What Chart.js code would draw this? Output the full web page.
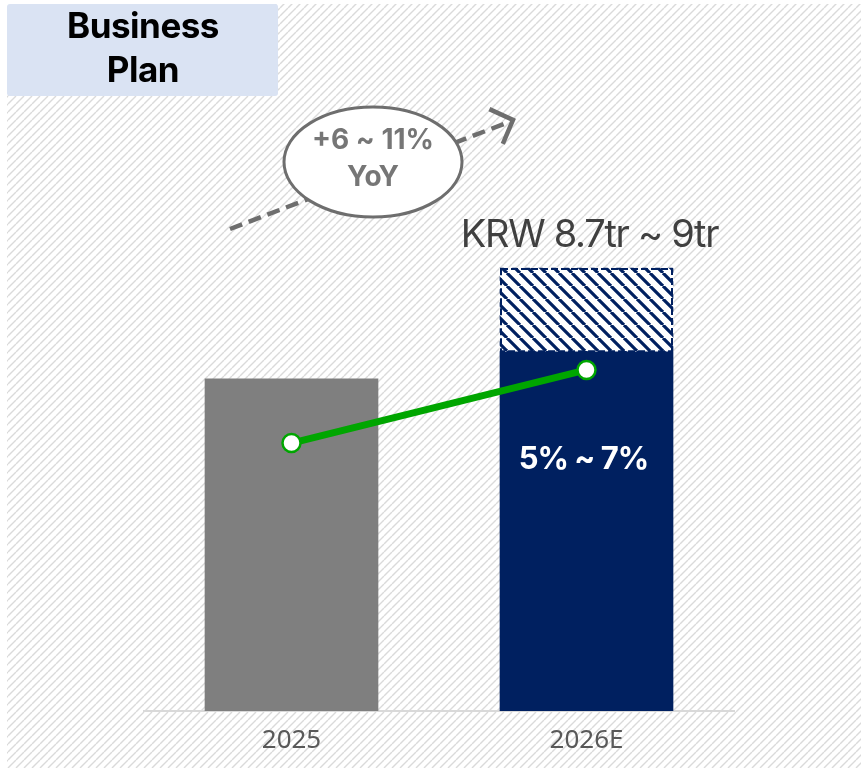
<!DOCTYPE html>
<html>
<head>
<meta charset="utf-8">
<script src="https://cdn.jsdelivr.net/npm/chart.js@4.4.1/dist/chart.umd.min.js"></script>
<style>
  html, body { margin: 0; padding: 0; background: #fff; }
</style>
</head>
<body>
<canvas id="planChart" width="864" height="768"></canvas>
<script>
const years = ["2025", "2026E"];
const revenue = [8.6, 8.7];              // KRW tr, solid bars
const targetRange = [null, [8.7, 9.0]];  // KRW tr, upper end of the 2026 plan
const trendLine = [4.4, 5.6];
const growthLines = ["+6 ~ 11%", "YoY"];
const marginLabel = "5% ~ 7%";
const titleLines = ["Business", "Plan"];

const NAVY = "#002060";
const GREEN = "#00a600";

/* ---------- PATTERNS ---------- */
function makeStripes(size, color, width, bg, rising) {
  const c = document.createElement("canvas");
  c.width = size; c.height = size;
  const g = c.getContext("2d");
  if (bg) { g.fillStyle = bg; g.fillRect(0, 0, size, size); }
  g.strokeStyle = color;
  g.lineWidth = width;
  g.beginPath();
  for (let k = -1; k <= 1; k++) {
    if (rising) {
      g.moveTo(k * size, size); g.lineTo(k * size + size, 0);
    } else {
      g.moveTo(k * size, 0); g.lineTo(k * size + size, size);
    }
  }
  g.stroke();
  return g.createPattern(c, "repeat");
}

const ctx = document.getElementById("planChart").getContext("2d");
const barHatch = makeStripes(13, NAVY, 3.2, "#ffffff", false);
const pageHatch = makeStripes(8, "#dadada", 1.4, "#ffffff", true);

/* ---------- DECORATION ---------- */
const decorations = {
  id: "decorations",
  beforeDraw(chart) {
    const c = chart.ctx;
    c.save();
    c.fillStyle = "#ffffff";
    c.fillRect(0, 0, chart.width, chart.height);
    c.fillStyle = pageHatch;
    c.fillRect(7, 4, 854, 764);

    // title box
    c.fillStyle = "#dae3f3";
    c.beginPath();
    c.roundRect(7, 4, 271, 92, 3);
    c.fill();
    c.fillStyle = "#000000";
    c.font = "700 35px Inter";
    c.letterSpacing = "-0.5px";
    c.textAlign = "center";
    c.textBaseline = "middle";
    c.fillText(titleLines[0], 143, 27);
    c.fillText(titleLines[1], 143, 71);
    c.restore();
  },
  afterDatasetsDraw(chart) {
    // dashed outline round the upper range
    const bar = chart.getDatasetMeta(2).data[1];
    const c = chart.ctx;
    c.save();
    c.strokeStyle = NAVY;
    c.lineWidth = 2;
    c.setLineDash([7, 3]);
    c.strokeRect(bar.x - bar.width / 2 + 1, bar.y + 1, bar.width - 2, bar.base - bar.y - 1);
    c.restore();
  },
  afterDraw(chart) {
    const c = chart.ctx;
    const top = chart.getDatasetMeta(2).data[1];
    const solid = chart.getDatasetMeta(1).data[1];
    c.save();

    // growth arrow
    const x0 = 230, y0 = 229, x1 = 513, y1 = 120;
    c.strokeStyle = "#6e6e6e";
    c.lineWidth = 4.5;
    c.setLineDash([13, 7]);
    c.beginPath();
    c.moveTo(x0, y0); c.lineTo(x1 - 4, y1 + 2);
    c.stroke();
    c.setLineDash([]);
    const ang = Math.atan2(y1 - y0, x1 - x0);
    c.lineJoin = "miter";
    c.beginPath();
    c.moveTo(x1 + 26 * Math.cos(ang + Math.PI - 0.8), y1 + 26 * Math.sin(ang + Math.PI - 0.8));
    c.lineTo(x1, y1);
    c.lineTo(x1 + 26 * Math.cos(ang + Math.PI + 0.8), y1 + 26 * Math.sin(ang + Math.PI + 0.8));
    c.stroke();

    // YoY ellipse
    c.beginPath();
    c.ellipse(373, 162, 89, 55, 0, 0, Math.PI * 2);
    c.fillStyle = "#ffffff";
    c.fill();
    c.lineWidth = 3;
    c.strokeStyle = "#6e6e6e";
    c.stroke();
    c.fillStyle = "#767676";
    c.font = "700 28px Inter";
    c.textAlign = "center";
    c.textBaseline = "middle";
    c.fillText(growthLines[0], 373, 141);
    c.fillText(growthLines[1], 373, 178);

    // range label above the 2026E bar
    const [lo, hi] = targetRange[1];
    c.fillStyle = "#404040";
    c.font = "400 38px Inter";
    c.letterSpacing = "-1.3px";
    c.fillText("KRW " + lo + "tr ~ " + hi + "tr", top.x + 3, top.y - 33);

    // margin label inside the 2026E bar
    c.fillStyle = "#ffffff";
    c.font = "700 31px Inter";
    c.letterSpacing = "-1px";
    c.fillText(marginLabel, solid.x - 3, 460);
    c.restore();
  }
};

/* ---------- CHART ---------- */
new Chart(ctx, {
  type: "bar",
  data: {
    labels: years,
    datasets: [
      {
        type: "line",
        data: trendLine,
        yAxisID: "y1",
        borderColor: GREEN,
        borderWidth: 7,
        pointRadius: 9,
        pointBackgroundColor: "#ffffff",
        pointBorderColor: GREEN,
        pointBorderWidth: 2.5,
        order: 0
      },
      {
        data: revenue,
        backgroundColor: ["#7f7f7f", NAVY],
        order: 2
      },
      {
        data: targetRange,
        backgroundColor: barHatch,
        order: 1
      }
    ]
  },
  options: {
    responsive: false,
    animation: false,
    layout: { padding: { left: 144, right: 130, top: 102, bottom: 0 } },
    datasets: { bar: { grouped: false, barThickness: 173 } },
    plugins: { legend: { display: false }, tooltip: { enabled: false } },
    scales: {
      x: {
        grid: { display: false, drawTicks: false },
        border: { color: "#d9d9d9", width: 2 },
        ticks: { padding: 13.5, color: "#595959", font: { family: "Noto Sans", size: 26 } },
        afterFit(scale) { scale.height = 57; }
      },
      y: { display: false, min: 7.4, max: 9.6 },
      y1: { display: false, min: 0, max: 10 }
    }
  },
  plugins: [decorations]
});
</script>
</body>
</html>
